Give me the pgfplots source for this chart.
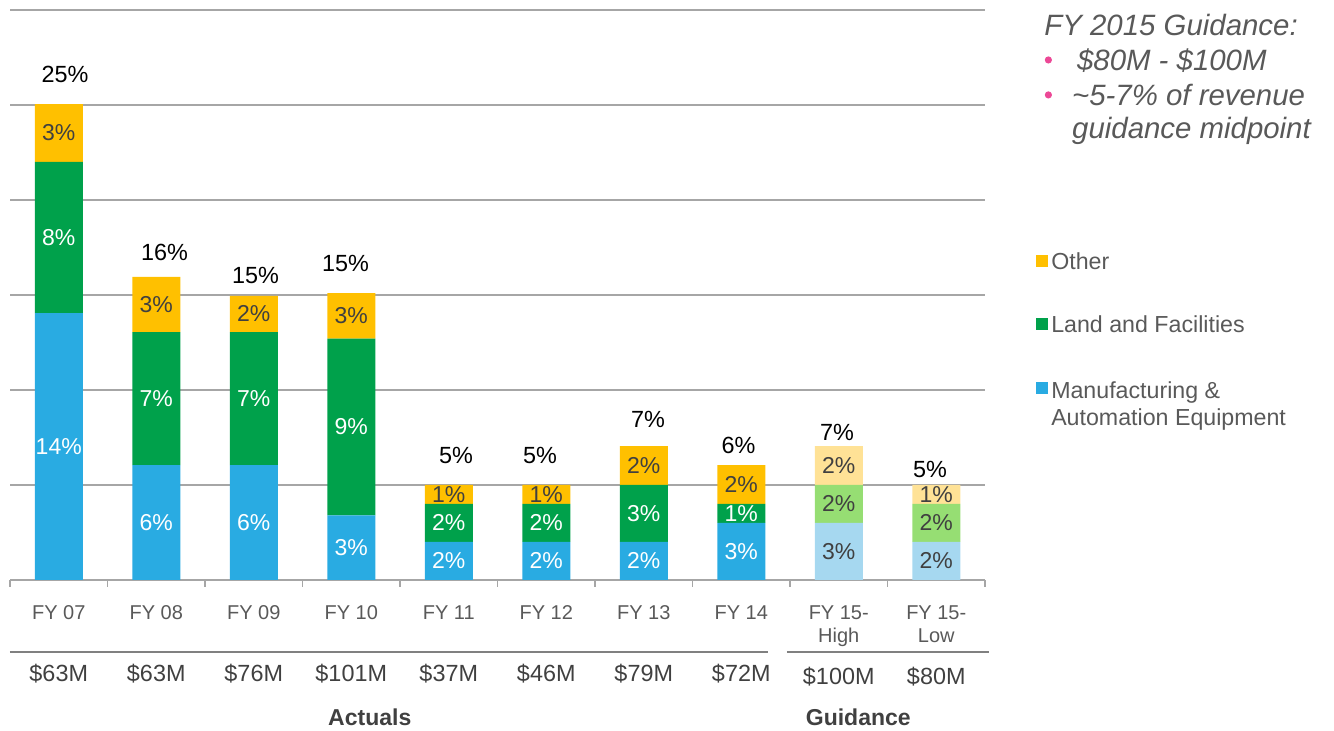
\documentclass[border=0pt]{standalone}
\usepackage{fontspec}
\setmainfont{Liberation Sans}
\usepackage{pgfplots}
\pgfplotsset{compat=1.18}

\definecolor{capexblue}{RGB}{41,171,226}
\definecolor{capexgreen}{RGB}{0,161,75}
\definecolor{capexorange}{RGB}{255,192,0}
\definecolor{paleblue}{RGB}{166,216,240}
\definecolor{palegreen}{RGB}{150,222,115}
\definecolor{paleorange}{RGB}{255,226,150}
\definecolor{gridgray}{RGB}{166,166,166}
\definecolor{linegray}{RGB}{128,128,128}
\definecolor{textgray}{RGB}{89,89,89}
\definecolor{darktext}{RGB}{64,64,64}
\definecolor{bulletpink}{RGB}{236,72,150}

\pgfplotsset{
  capexaxis/.style={
    scale only axis, width=487.5pt, height=285pt,
    xmin=-0.5, xmax=9.5, ymin=0, ymax=30,
  },
}

\begin{document}
\begin{tikzpicture}
\path[use as bounding box] (-5pt,-75.5pt) rectangle (662pt,290pt);

% bars
\begin{axis}[
  capexaxis,
  ybar stacked, bar width=24pt,
  axis line style={draw=none},
  ytick={0,5,...,30}, yticklabels={}, ytick style={draw=none},
  ymajorgrids, grid style={gridgray, line width=0.7pt},
  xtick={0,...,9}, xtick pos=left,
  xticklabels={FY 07, FY 08, FY 09, FY 10, FY 11, FY 12, FY 13, FY 14, {FY 15-\\High}, {FY 15-\\Low}},
  typeset ticklabels with strut,
  xticklabel style={align=center, font=\fontsize{10}{11.5}\selectfont, text=textgray, anchor=north, yshift=-8pt},
  xtick style={draw=none},
  reverse legend,
  legend cell align=left,
  legend image code/.code={\fill[#1] (0pt,-2pt) rectangle (6pt,4pt);},
  legend style={at={(rel axis cs:1.046,0.587)}, anchor=north west, draw=none, fill=none,
    font=\fontsize{11.6}{13.5}\selectfont, text=textgray, row sep=18.75pt,
    nodes={inner sep=1.5pt}},
  clip=false,
]
\addplot[fill=capexblue, draw=none] coordinates
  {(0,14.05) (1,6.05) (2,6.05) (3,3.4) (4,2) (5,2) (6,2) (7,3) (8,0) (9,0)};
\addlegendentry{\begin{tabular}[t]{@{}l@{}}Manufacturing \&\\Automation Equipment\end{tabular}}
\addplot[fill=capexgreen, draw=none] coordinates
  {(0,7.95) (1,7) (2,7) (3,9.3) (4,2) (5,2) (6,3) (7,1) (8,0) (9,0)};
\addlegendentry{Land and Facilities}
\addplot[fill=capexorange, draw=none] coordinates
  {(0,3.05) (1,2.9) (2,1.9) (3,2.4) (4,1) (5,1) (6,2.05) (7,2.05) (8,0) (9,0)};
\addlegendentry{Other}
% guidance bars in pale colours
\addplot[fill=paleblue, draw=none, forget plot] coordinates
  {(0,0) (1,0) (2,0) (3,0) (4,0) (5,0) (6,0) (7,0) (8,3) (9,2)};
\addplot[fill=palegreen, draw=none, forget plot] coordinates
  {(0,0) (1,0) (2,0) (3,0) (4,0) (5,0) (6,0) (7,0) (8,2) (9,2)};
\addplot[fill=paleorange, draw=none, forget plot] coordinates
  {(0,0) (1,0) (2,0) (3,0) (4,0) (5,0) (6,0) (7,0) (8,2.05) (9,1)};
\end{axis}

% labels, boundary ticks and the rows below
\begin{axis}[
  capexaxis, clip=false,
  axis line style={draw=none},
  ytick=\empty,
  xtick={-0.5,0.5,...,9.5}, xticklabels={}, xtick pos=left,
  tick align=outside, major tick length=3.5pt,
  xtick style={draw=gridgray, line width=0.6pt},
  nodes near coords, point meta=explicit symbolic,
]
\addplot[draw=none, nodes near coords style={anchor=center, text=white, font=\fontsize{11.5}{12}\selectfont}] coordinates {
  (0,7.025)[14\%] (1,3.025)[6\%] (2,3.025)[6\%] (3,1.7)[3\%] (4,1)[2\%] (5,1)[2\%] (6,1)[2\%] (7,1.5)[3\%]
  (0,18.025)[8\%] (1,9.55)[7\%] (2,9.55)[7\%] (3,8.05)[9\%] (4,3)[2\%] (5,3)[2\%] (6,3.5)[3\%] (7,3.5)[1\%]
};
\addplot[draw=none, nodes near coords style={anchor=center, text=darktext, font=\fontsize{11.5}{12}\selectfont}] coordinates {
  (0,23.525)[3\%] (1,14.5)[3\%] (2,14)[2\%] (3,13.9)[3\%] (4,4.5)[1\%] (5,4.5)[1\%] (6,6.025)[2\%] (7,5.025)[2\%]
  (8,1.5)[3\%] (8,4)[2\%] (8,6.025)[2\%] (9,1)[2\%] (9,3)[2\%] (9,4.5)[1\%]
};
% totals, at the place of each label
\addplot[draw=none, nodes near coords style={anchor=base, inner sep=0pt, text=black, font=\fontsize{11.7}{12}\selectfont}] coordinates {
  (0.064,26.16)[25\%] (1.085,16.84)[16\%] (2.018,15.58)[15\%] (2.941,16.26)[15\%] (4.074,6.11)[5\%]
  (4.936,6.11)[5\%] (6.044,8.0)[7\%] (6.972,6.68)[6\%] (7.982,7.32)[7\%] (8.936,5.42)[5\%]
};
% spending per year
\addplot[draw=none, nodes near coords style={anchor=base, inner sep=0pt, text=darktext, yshift=-51pt, font=\fontsize{11.7}{12}\selectfont}] coordinates {
  (0,0)[\$63M] (1,0)[\$63M] (2,0)[\$76M] (3,0)[\$101M] (4,0)[\$37M] (5,0)[\$46M] (6,0)[\$79M] (7,0)[\$72M]
};
\addplot[draw=none, nodes near coords style={anchor=base, inner sep=0pt, text=darktext, yshift=-52.5pt, font=\fontsize{11.7}{12}\selectfont}] coordinates {
  (8,0)[\$100M] (9,0)[\$80M]
};

\draw[linegray, line width=0.8pt] ([yshift=-36pt]axis cs:-0.5,0) -- ([yshift=-36pt]axis cs:7.274,0);
\draw[linegray, line width=0.8pt] ([yshift=-36pt]axis cs:7.469,0) -- ([yshift=-36pt]axis cs:9.541,0);
\node[anchor=base, inner sep=0pt, text=darktext, font=\fontsize{11.5}{12}\selectfont\bfseries] at ([yshift=-73pt]axis cs:3.19,0) {Actuals};
\node[anchor=base, inner sep=0pt, text=darktext, font=\fontsize{11.5}{12}\selectfont\bfseries] at ([yshift=-73pt]axis cs:8.20,0) {Guidance};

% guidance note, top right
\begin{scope}[every node/.style={anchor=base west, inner sep=0pt, text=textgray, font=\fontsize{14.7}{16}\selectfont\itshape}]
\node at (axis cs:10.105,28.68) {FY 2015 Guidance:};
\node at (axis cs:10.44,26.84) {\$80M - \$100M};
\node at (axis cs:10.39,24.95) {\textasciitilde5-7\% of revenue};
\node at (axis cs:10.39,23.22) {guidance midpoint};
\end{scope}
\fill[bulletpink] (axis cs:10.15,27.37) circle (1.8pt);
\fill[bulletpink] (axis cs:10.15,25.53) circle (1.8pt);
\end{axis}
\end{tikzpicture}
\end{document}
